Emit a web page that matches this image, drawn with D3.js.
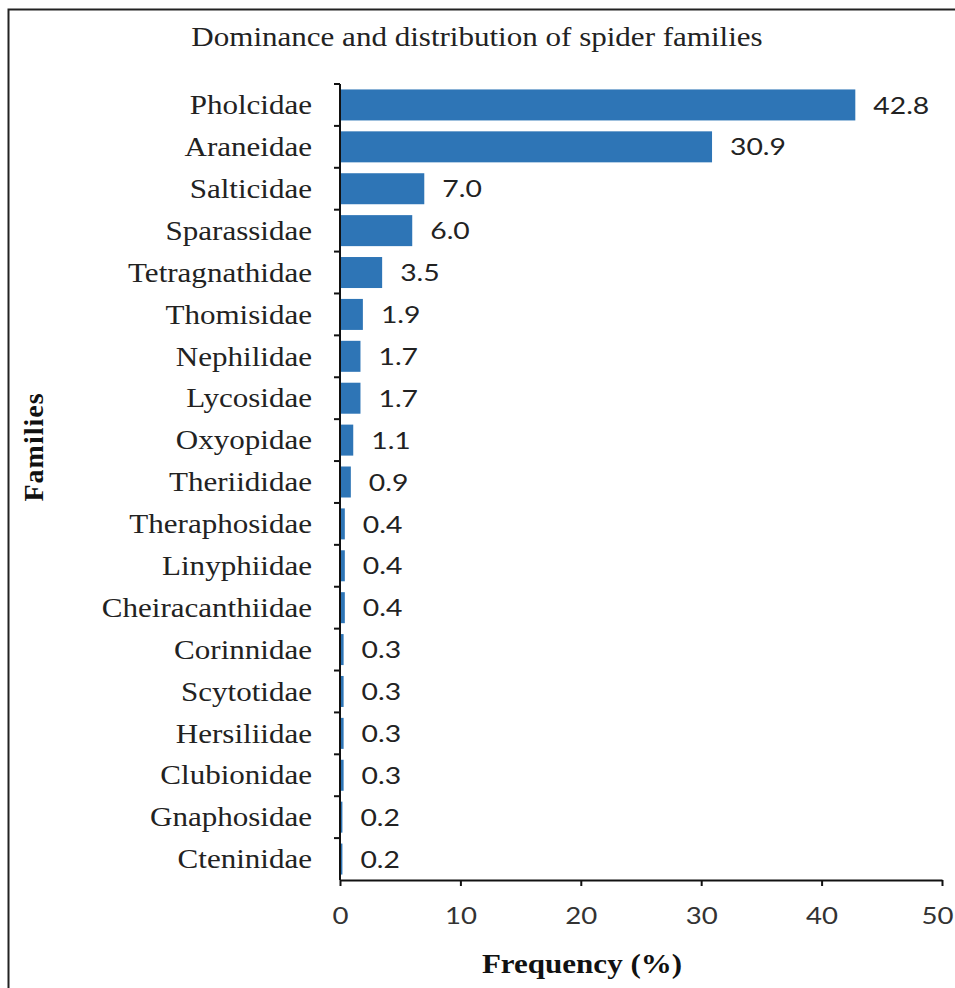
<!DOCTYPE html>
<html>
<head>
<meta charset="utf-8">
<script src="https://cdn.jsdelivr.net/npm/d3@7/dist/d3.min.js"></script>
<style>
  html, body { margin: 0; padding: 0; background: #fff; }
  svg { display: block; }
</style>
</head>
<body>
<svg id="chart" width="955" height="988"></svg>
<script>
// Spider families and their relative frequency (%)
const families = [
  "Pholcidae", "Araneidae", "Salticidae", "Sparassidae", "Tetragnathidae",
  "Thomisidae", "Nephilidae", "Lycosidae", "Oxyopidae", "Theriididae",
  "Theraphosidae", "Linyphiidae", "Cheiracanthiidae", "Corinnidae",
  "Scytotidae", "Hersiliidae", "Clubionidae", "Gnaphosidae", "Cteninidae"
];
const frequency = [
  42.8, 30.9, 7.0, 6.0, 3.5,
  1.9, 1.7, 1.7, 1.1, 0.9,
  0.4, 0.4, 0.4, 0.3,
  0.3, 0.3, 0.3, 0.2, 0.2
];
const xTicks = [0, 10, 20, 30, 40, 50];

const titleText = "Dominance and distribution of spider families";
const xTitle = "Frequency (%)";
const yTitle = "Families";

const serif = "'Liberation Serif', 'Times New Roman', serif";
const sans = "Lato, 'Open Sans', 'Liberation Sans', sans-serif";
const barColor = "#2E75B6";
// text is set slightly wide
const stretch = 1.15;

const svg = d3.select("#chart");

// outer frame
svg.append("rect")
  .attr("x", 8.5).attr("y", 9.5)
  .attr("width", 1000).attr("height", 1000)
  .attr("fill", "none").attr("stroke", "#222").attr("stroke-width", 2);

const plotLeft = 340, plotRight = 942, plotTop = 84, plotBottom = 880;

const x = d3.scaleLinear().domain([0, 50]).range([plotLeft, plotRight]);
const y = d3.scaleBand().domain(families).range([plotTop, plotBottom]).paddingInner(0.26).paddingOuter(0.13);

const data = families.map((f, i) => ({ family: f, value: frequency[i] }));

// bars
svg.append("g").selectAll("rect")
  .data(data)
  .join("rect")
  .attr("x", x(0))
  .attr("y", d => y(d.family))
  .attr("width", d => x(d.value) - x(0))
  .attr("height", y.bandwidth())
  .attr("fill", barColor);

// value labels
svg.append("g").selectAll("text")
  .data(data)
  .join("text")
  .attr("transform", d => `translate(${x(d.value) + 18},${y(d.family) + y.bandwidth() / 2}) scale(${stretch + 0.03},1)`)
  .attr("dy", "0.36em")
  .attr("font-family", sans)
  .attr("font-size", 24)
  .attr("fill", "#222")
  .text(d => d.value.toFixed(1));

// y axis: line with ticks at category boundaries
const yAxis = svg.append("g");
yAxis.append("line")
  .attr("x1", plotLeft).attr("x2", plotLeft)
  .attr("y1", plotTop).attr("y2", plotBottom)
  .attr("stroke", "#111").attr("stroke-width", 2);
const step = y.step();
const boundaries = d3.range(families.length).map(i => y(families[i]) - y.paddingOuter() * step);
yAxis.selectAll("line.tick")
  .data(boundaries)
  .join("line")
  .attr("class", "tick")
  .attr("x1", plotLeft - 6).attr("x2", plotLeft)
  .attr("y1", d => d).attr("y2", d => d)
  .attr("stroke", "#111").attr("stroke-width", 2);

// category labels
yAxis.selectAll("text")
  .data(families)
  .join("text")
  .attr("transform", d => `translate(312,${y(d) + y.bandwidth() / 2}) scale(${stretch},1)`)
  .attr("dy", "0.34em")
  .attr("text-anchor", "end")
  .attr("font-family", serif)
  .attr("font-size", 27)
  .attr("fill", "#222")
  .text(d => d);

// x axis
const xAxis = svg.append("g")
  .attr("transform", `translate(0,${plotBottom})`)
  .call(d3.axisBottom(x).tickValues(xTicks).tickSize(6).tickSizeOuter(0).tickPadding(10).tickFormat(d3.format("d")));
xAxis.select(".domain").attr("stroke", "#111").attr("stroke-width", 2);
xAxis.selectAll(".tick line").attr("stroke", "#111").attr("stroke-width", 2);
xAxis.selectAll(".tick text")
  .attr("y", 27)
  .attr("transform", `scale(${stretch},1)`)
  .attr("font-family", sans)
  .attr("font-size", 24)
  .attr("fill", "#333");
// keep the last tick label inside the page edge
xAxis.selectAll(".tick text")
  .filter(d => d === xTicks[xTicks.length - 1])
  .attr("text-anchor", "end")
  .attr("x", 11 / stretch);

// titles
svg.append("text")
  .attr("transform", `translate(477,46) scale(${stretch},1)`)
  .attr("text-anchor", "middle")
  .attr("font-family", serif)
  .attr("font-size", 27)
  .attr("fill", "#222")
  .text(titleText);

svg.append("text")
  .attr("transform", `translate(582,973) scale(${stretch},1)`)
  .attr("text-anchor", "middle")
  .attr("font-family", serif)
  .attr("font-size", 27)
  .attr("font-weight", "bold")
  .attr("fill", "#111")
  .text(xTitle);

svg.append("text")
  .attr("transform", `translate(43,447) rotate(-90)`)
  .attr("text-anchor", "middle")
  .attr("font-family", serif)
  .attr("font-size", 28)
  .attr("font-weight", "bold")
  .attr("letter-spacing", 1)
  .attr("fill", "#111")
  .text(yTitle);
</script>
</body>
</html>
